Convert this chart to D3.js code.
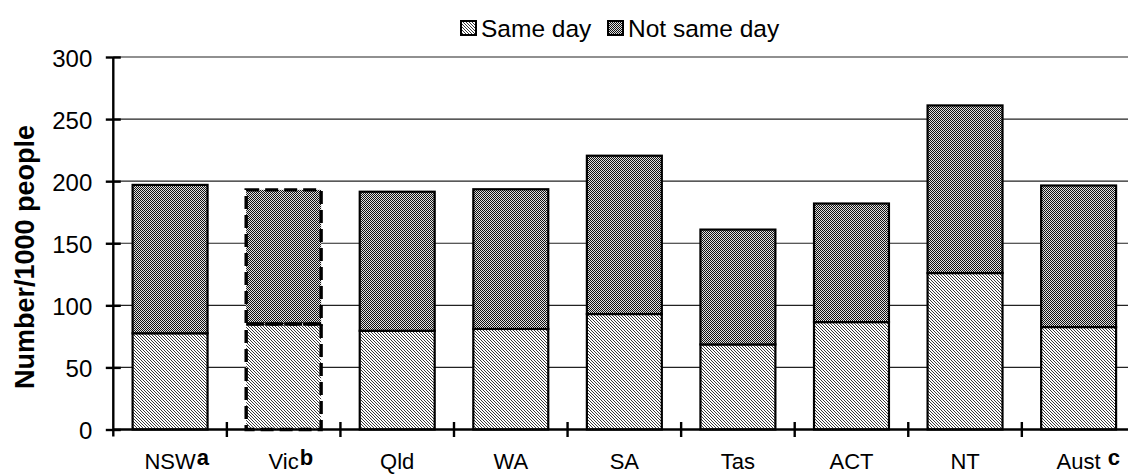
<!DOCTYPE html>
<html>
<head>
<meta charset="utf-8">
<script src="https://cdn.jsdelivr.net/npm/d3@7"></script>
<style>
  html, body { margin: 0; padding: 0; background: #fff; }
  svg { display: block; font-family: "Liberation Sans", Arial, sans-serif; }
</style>
</head>
<body>
<svg id="chart" width="1128" height="475"></svg>
<script>
// ---- data ----
const categories = ["NSW", "Vic", "Qld", "WA", "SA", "Tas", "ACT", "NT", "Aust"];
const labelNotes = ["a", "b", "", "", "", "", "", "", "\u00a0c"];
const sameDay    = [77.5, 85, 79.5, 81, 93, 68.5, 86.5, 126, 82.5];
const notSameDay = [119.5, 108, 112, 112.5, 127.5, 92.5, 95.5, 135, 114];
const seriesNames = ["Same day", "Not same day"];
const yTicks = [0, 50, 100, 150, 200, 250, 300];
const dashedCategory = "Vic";

// ---- layout ----
const W = 1128, H = 475;
const x0 = 113.3, x1 = 1135.4;
const yBottom = 429.5, yTop = 57;

const svg = d3.select("#chart");
const defs = svg.append("defs");

// hatch pattern for "Same day"
const p1 = defs.append("pattern").attr("id", "hatch").attr("patternUnits", "userSpaceOnUse")
  .attr("width", 3).attr("height", 3);
p1.append("rect").attr("width", 3).attr("height", 3).attr("fill", "#fff");
[0, 1, 2].forEach(i => p1.append("rect").attr("x", i).attr("y", i).attr("width", 1).attr("height", 1).attr("fill", "#3a3a3a"));

// checker pattern for "Not same day"
const p2 = defs.append("pattern").attr("id", "checker").attr("patternUnits", "userSpaceOnUse")
  .attr("width", 2).attr("height", 2);
p2.append("rect").attr("width", 2).attr("height", 2).attr("fill", "#e0e0e0");
p2.append("rect").attr("x", 0).attr("y", 0).attr("width", 1).attr("height", 1).attr("fill", "#111");
p2.append("rect").attr("x", 1).attr("y", 1).attr("width", 1).attr("height", 1).attr("fill", "#111");

const fills = ["url(#hatch)", "url(#checker)"];

const x = d3.scaleBand().domain(categories).range([x0, x1]).padding(0);
const y = d3.scaleLinear().domain([0, 300]).range([yBottom, yTop]);
const barW = x.bandwidth() * 0.66;

// gridlines
svg.append("g").selectAll("line").data(yTicks.filter(d => d > 0)).join("line")
  .attr("x1", x0).attr("x2", W)
  .attr("y1", d => y(d)).attr("y2", d => y(d))
  .attr("stroke", "#222").attr("stroke-width", 1.2);

// stacked bars
const rows = categories.map((c, i) => ({ cat: c, same: sameDay[i], not: notSameDay[i] }));
const stack = d3.stack().keys(["same", "not"]);
const layers = stack(rows);

const gBars = svg.append("g");
layers.forEach((layer, li) => {
  gBars.append("g").selectAll("rect").data(layer).join("rect")
    .attr("x", d => x(d.data.cat) + (x.bandwidth() - barW) / 2)
    .attr("width", barW)
    .attr("y", d => y(d[1]))
    .attr("height", d => y(d[0]) - y(d[1]))
    .attr("fill", fills[li])
    .attr("stroke", d => d.data.cat === dashedCategory ? "none" : "#000")
    .attr("stroke-width", 2.2);
});
// dashed outline for Vic
layers.forEach((layer) => {
  gBars.append("g").selectAll("rect").data(layer.filter(d => d.data.cat === dashedCategory)).join("rect")
    .attr("x", d => x(d.data.cat) + (x.bandwidth() - barW) / 2)
    .attr("width", barW)
    .attr("y", d => y(d[1]))
    .attr("height", d => y(d[0]) - y(d[1]))
    .attr("fill", "none")
    .attr("stroke", "#000").attr("stroke-width", 3.4)
    .attr("stroke-dasharray", "13,6");
});

// y axis
const yAxis = d3.axisLeft(y).tickValues(yTicks).tickSize(0).tickPadding(0).tickFormat(d3.format("d"));
const gy = svg.append("g").attr("transform", `translate(${x0},0)`).call(yAxis);
gy.select(".domain").remove();
gy.append("line").attr("x1", 0).attr("x2", 0).attr("y1", yTop).attr("y2", yBottom + 7)
  .attr("stroke", "#000").attr("stroke-width", 2.4);
gy.selectAll(".tick").append("line").attr("x1", -7.5).attr("x2", 7.5)
  .attr("stroke", "#000").attr("stroke-width", 2.4);
gy.selectAll(".tick text").attr("x", -21).attr("dy", 0).attr("dominant-baseline", "auto")
  .attr("transform", "translate(0,9)")
  .attr("font-size", 24).attr("font-family", "Liberation Sans, Arial, sans-serif").attr("fill", "#000");

// x axis
svg.append("line").attr("x1", x0).attr("x2", W).attr("y1", yBottom).attr("y2", yBottom)
  .attr("stroke", "#000").attr("stroke-width", 2.4);
svg.append("g").selectAll("line").data(categories.slice(1)).join("line")
  .attr("x1", d => x(d)).attr("x2", d => x(d))
  .attr("y1", yBottom - 7.5).attr("y2", yBottom + 7.5)
  .attr("stroke", "#000").attr("stroke-width", 2.4);

// x labels
const gx = svg.append("g");
categories.forEach((c, i) => {
  const cx = x(c) + x.bandwidth() / 2;
  const t = gx.append("text").attr("x", cx).attr("y", 469).attr("text-anchor", "middle")
    .attr("font-size", 22).attr("fill", "#000").text(c);
  if (labelNotes[i]) {
    const w = t.node().getComputedTextLength();
    gx.append("text").attr("x", cx + w / 2 + 1).attr("y", 465).attr("text-anchor", "start")
      .attr("font-size", 22).attr("font-weight", "bold").attr("fill", "#000").text(labelNotes[i]);
  }
});

// y title
svg.append("text").attr("transform", "translate(34,257) rotate(-90)")
  .attr("text-anchor", "middle").attr("font-size", 27).attr("font-weight", "bold")
  .attr("fill", "#000").text("Number/1000 people");

// legend
const legX = [461, 608];
const gl = svg.append("g");
seriesNames.forEach((s, i) => {
  gl.append("rect").attr("x", legX[i]).attr("y", 21).attr("width", 15).attr("height", 14)
    .attr("fill", fills[i]).attr("stroke", "#000").attr("stroke-width", 2);
  gl.append("text").attr("x", legX[i] + 20).attr("y", 37).attr("font-size", 24.5)
    .attr("fill", "#000").text(s);
});
</script>
</body>
</html>
